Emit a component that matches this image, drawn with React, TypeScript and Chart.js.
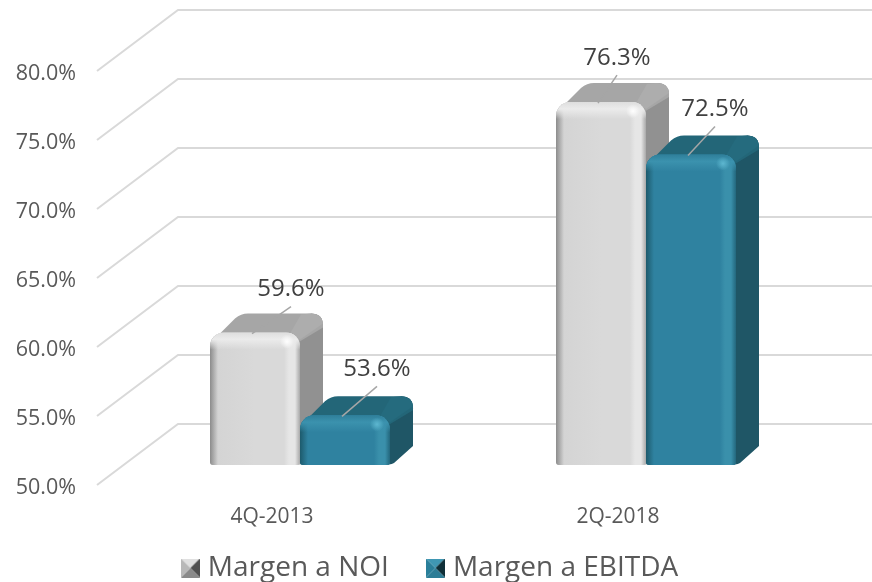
import React, { useEffect, useRef } from "react";
import { Chart, registerables } from "chart.js";

Chart.register(...registerables);

const categories = ["4Q-2013", "2Q-2018"];
const margenNoi = [59.6, 76.3];
const margenEbitda = [53.6, 72.5];
const seriesNames = ["Margen a NOI", "Margen a EBITDA"];
const yMin = 50;
const yMax = 80;
const yStep = 5;

const FONT = '"Open Sans", sans-serif';
const DX = 23;
const DY = -19;

const palettes = [
  {
    face: "#d9d9d9",
    edgeL: "#8c8c8c",
    faceL: "#d4d4d4",
    faceR: "#e6e6e6",
    edgeR: "#a8a8a8",
    bandTop: "#dedede",
    bandHi: "#ebebeb",
    spot: "rgba(255,255,255,0.95)",
    top: "#a6a6a6",
    topHi: "#adadad",
    side: "#919191",
    icon: ["#e0e0e0", "#505050", "#8a8a8a", "#b8b8b8"],
  },
  {
    face: "#2f82a0",
    edgeL: "#1d5a6c",
    faceL: "#2f82a0",
    faceR: "#3a90ab",
    edgeR: "#23677d",
    bandTop: "#2f7f9a",
    bandHi: "#3b92ae",
    spot: "rgba(95,185,210,0.95)",
    top: "#236678",
    topHi: "#256b7e",
    side: "#1f5666",
    icon: ["#3f97b3", "#0f2f38", "#2d7d96", "#2a7f9a"],
  },
];

// label position relative to the bar's top centre: [dx, dy], one per series/category
const labelOffsets = [
  [[36, -43], [16, -44]],
  [[32, -46], [24, -45]],
];
const leaderRise = [
  [-26, -27],
  [-29, -28],
];

function makeIcon(colors: string[]) {
  const c = document.createElement("canvas");
  const w = 19;
  const h = 19;
  c.width = w;
  c.height = h;
  const g = c.getContext("2d")!;
  const tri = (x1: number, y1: number, x2: number, y2: number, col: string) => {
    g.fillStyle = col;
    g.beginPath();
    g.moveTo(x1, y1);
    g.lineTo(x2, y2);
    g.lineTo(w / 2, h / 2);
    g.closePath();
    g.fill();
  };
  tri(0, 0, w, 0, colors[0]);
  tri(w, 0, w, h, colors[1]);
  tri(w, h, 0, h, colors[2]);
  tri(0, h, 0, 0, colors[3]);
  return c;
}

function barBox(el: any) {
  const p = el.getProps(["x", "y", "base", "width"], true);
  return { l: p.x - p.width / 2, r: p.x + p.width / 2, t: p.y, b: p.base, cx: p.x };
}

const bar3d = {
  id: "bar3d",
  afterLayout(chart: any) {
    if (chart.legend) {
      chart.legend.top = 511;
      chart.legend.left += 23;
      chart.legend.right += 23;
    }
  },
  beforeDatasetsDraw(chart: any) {
    const { ctx } = chart;
    const y = chart.scales.y;
    ctx.save();
    ctx.strokeStyle = "#d9d9d9";
    ctx.lineWidth = 2;
    ctx.lineJoin = "miter";
    y.ticks.forEach((t: any) => {
      const p = y.getPixelForValue(t.value);
      ctx.beginPath();
      ctx.moveTo(97, p + 20);
      ctx.lineTo(178, p - 41);
      ctx.lineTo(chart.width, p - 41);
      ctx.stroke();
    });
    // depth faces, first series first so the second one covers it
    chart.data.datasets.forEach((_: any, si: number) => {
      const pal = palettes[si];
      chart.getDatasetMeta(si).data.forEach((el: any) => {
        const { l, r, t, b } = barBox(el);
        // side
        ctx.fillStyle = pal.side;
        ctx.beginPath();
        ctx.moveTo(r - 6, t + 2);
        ctx.lineTo(r + DX - 12, t + DY);
        ctx.quadraticCurveTo(r + DX, t + DY, r + DX, t + DY + 12);
        ctx.lineTo(r + DX, b + DY);
        ctx.lineTo(r + 4, b - 2);
        ctx.quadraticCurveTo(r, b, r - 8, b);
        ctx.closePath();
        ctx.fill();
        // top
        ctx.fillStyle = pal.top;
        ctx.beginPath();
        ctx.moveTo(l + 5, t + 6);
        ctx.lineTo(l + DX + 2, t + DY + 5);
        ctx.quadraticCurveTo(l + DX + 8, t + DY, l + DX + 15, t + DY);
        ctx.lineTo(r + DX - 12, t + DY);
        ctx.quadraticCurveTo(r + DX - 1, t + DY, r + DX, t + DY + 10);
        ctx.lineTo(r + DX, t + DY + 14);
        ctx.lineTo(r - 2, t + 10);
        ctx.lineTo(r - 10, t + 2);
        ctx.closePath();
        ctx.fill();
        // lighter diagonal round the back right corner
        ctx.fillStyle = pal.topHi;
        ctx.beginPath();
        ctx.moveTo(r - 10, t + 1);
        ctx.lineTo(r + DX - 22, t + DY + 1);
        ctx.lineTo(r + DX - 12, t + DY);
        ctx.quadraticCurveTo(r + DX - 1, t + DY, r + DX, t + DY + 10);
        ctx.lineTo(r, t + 7);
        ctx.closePath();
        ctx.fill();
      });
    });
    ctx.restore();
  },
  afterDatasetsDraw(chart: any) {
    const { ctx } = chart;
    chart.data.datasets.forEach((_: any, si: number) => {
      const pal = palettes[si];
      chart.getDatasetMeta(si).data.forEach((el: any) => {
        const { l, r, t, b } = barBox(el);
        const w = r - l;
        ctx.save();
        ctx.beginPath();
        (ctx as any).roundRect(l, t, w, b - t, [14, 14, 3, 3]);
        ctx.clip();
        const hg = ctx.createLinearGradient(l, 0, r, 0);
        hg.addColorStop(0, pal.edgeL);
        hg.addColorStop(8 / w, pal.faceL);
        hg.addColorStop(0.5, pal.face);
        hg.addColorStop((w - 16) / w, pal.face);
        hg.addColorStop((w - 11) / w, pal.faceR);
        hg.addColorStop((w - 5) / w, pal.faceR);
        hg.addColorStop(1, pal.edgeR);
        ctx.fillStyle = hg;
        ctx.fillRect(l, t, w, b - t);
        const bandH = 17;
        const vg = ctx.createLinearGradient(0, t, 0, t + bandH);
        vg.addColorStop(0, pal.bandTop);
        vg.addColorStop(0.4, pal.bandHi);
        vg.addColorStop(1, pal.bandHi + "00");
        ctx.fillStyle = vg;
        ctx.fillRect(l, t, w, bandH);
        const rg = ctx.createRadialGradient(r - 13, t + 9, 0, r - 13, t + 9, 7);
        rg.addColorStop(0, pal.spot);
        rg.addColorStop(1, pal.spot.replace(/[\d.]+\)$/, "0)"));
        ctx.fillStyle = rg;
        ctx.fillRect(r - 22, t, 18, 18);
        ctx.restore();
      });
    });
    // data labels with their leader lines
    chart.data.datasets.forEach((ds: any, si: number) => {
      chart.getDatasetMeta(si).data.forEach((el: any, i: number) => {
        const { t, cx } = barBox(el);
        const [ox, oy] = labelOffsets[si][i];
        ctx.save();
        ctx.strokeStyle = "#a6a6a6";
        ctx.lineWidth = 1.5;
        ctx.beginPath();
        ctx.moveTo(cx - 3, t + 1);
        ctx.lineTo(cx + ox, t + leaderRise[si][i]);
        ctx.stroke();
        ctx.fillStyle = "#404040";
        ctx.font = `24px ${FONT}`;
        ctx.textAlign = "center";
        ctx.textBaseline = "middle";
        ctx.fillText(ds.data[i].toFixed(1) + "%", cx + ox, t + oy);
        ctx.restore();
      });
    });
  },
};

export default function App() {
  const ref = useRef<HTMLCanvasElement>(null);
  useEffect(() => {
    document.body.style.margin = "0";
    const icons = palettes.map((p) => makeIcon(p.icon));
    const chart = new Chart(ref.current!, {
      type: "bar",
      data: {
        labels: categories,
        datasets: [
          { label: seriesNames[0], data: margenNoi, backgroundColor: palettes[0].face, base: yMin },
          { label: seriesNames[1], data: margenEbitda, backgroundColor: palettes[1].face, base: yMin },
        ],
      },
      options: {
        responsive: false,
        animation: false,
        events: [],
        layout: { padding: { top: 51, right: 53, bottom: -29, left: 0 } },
        datasets: {
          bar: {
            categoryPercentage: 180 / 346,
            barPercentage: 1,
            borderSkipped: false,
            borderRadius: { topLeft: 14, topRight: 14, bottomLeft: 3, bottomRight: 3 },
          },
        },
        scales: {
          x: {
            grid: { display: false, drawTicks: false },
            border: { display: false },
            ticks: {
              color: "#595959",
              font: { family: FONT, size: 21 },
              padding: 39,
              labelOffset: -28,
              maxRotation: 0,
            },
            afterFit(s: any) {
              s.height = 65;
            },
          },
          y: {
            min: yMin,
            max: yMax,
            grid: { display: false, drawTicks: false },
            border: { display: false },
            ticks: {
              stepSize: yStep,
              color: "#595959",
              font: { family: FONT, size: 21.5 },
              padding: 51,
              labelOffset: 23,
              callback: (v: any) => Number(v).toFixed(1) + "%",
            },
            afterFit(s: any) {
              s.width = 127;
              s.paddingTop = 0;
              s.paddingBottom = 0;
            },
          },
        },
        plugins: {
          tooltip: { enabled: false },
          title: { display: false },
          legend: {
            position: "bottom",
            labels: {
              color: "#595959",
              font: { family: FONT, size: 28 },
              padding: 43,
              usePointStyle: true,
              pointStyleWidth: 7,
              generateLabels: (c: any) =>
                c.data.datasets.map((d: any, i: number) => ({
                  text: d.label,
                  fillStyle: palettes[i].face,
                  strokeStyle: palettes[i].face,
                  lineWidth: 0,
                  pointStyle: icons[i],
                  fontColor: "#595959",
                  hidden: false,
                  datasetIndex: i,
                })),
            },
          },
        },
      } as any,
      plugins: [bar3d],
    });
    return () => chart.destroy();
  }, []);
  return <canvas ref={ref} width={872} height={582} style={{ display: "block" }} />;
}
